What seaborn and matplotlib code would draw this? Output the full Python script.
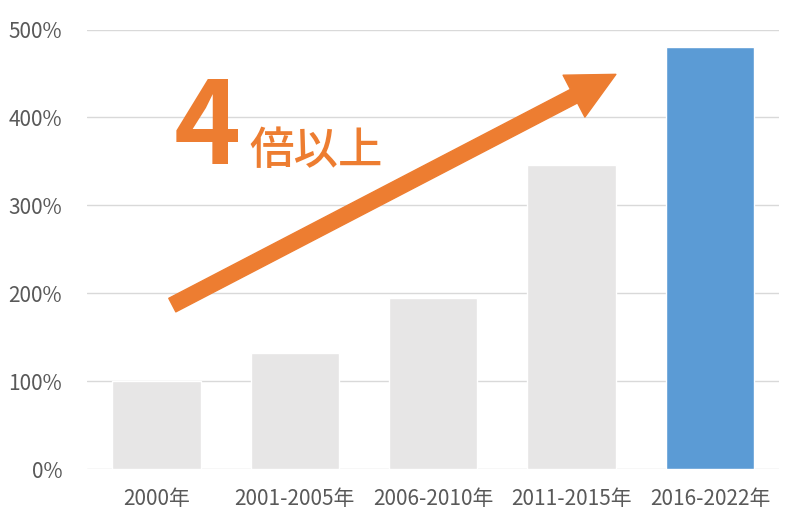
import seaborn as sns
import matplotlib.pyplot as plt
import pandas as pd

# data
periods = ["2000年", "2001-2005年", "2006-2010年", "2011-2015年", "2016-2022年"]
growth = [100, 132, 195, 346, 480]
bar_colors = ["#E7E6E6", "#E7E6E6", "#E7E6E6", "#E7E6E6", "#5B9BD5"]
yticks = [0, 100, 200, 300, 400, 500]

df = pd.DataFrame({"period": periods, "growth": growth})

sns.set_theme(style="white")
plt.rcParams["font.family"] = ["Noto Sans CJK JP", "DejaVu Sans"]

fig = plt.figure(figsize=(8, 5.27), dpi=100)
ax = fig.add_axes([0.109, 0.11, 0.865, 0.834])

sns.barplot(data=df, x="period", y="growth", hue="period", palette=bar_colors,
            legend=False, width=0.64, saturation=1, ax=ax, zorder=2)

ax.set_ylim(0, 500)
ax.set_yticks(yticks)
ax.set_yticklabels([f"{v}%" for v in yticks])
ax.set_xlim(-0.5, 4.5)
ax.grid(axis="y", color="#D9D9D9", linewidth=1, zorder=0)
ax.set_axisbelow(True)
for s in ax.spines.values():
    s.set_visible(False)
ax.set_xlabel("")
ax.set_ylabel("")
ax.tick_params(axis="y", labelsize=15, colors="#595959", length=0, pad=18)
ax.tick_params(axis="x", labelsize=15, colors="#595959", length=0, pad=14)

orange = "#ED7D31"
ax.annotate("", xy=(0.764, 0.898), xytext=(0.123, 0.373),
            xycoords="axes fraction", textcoords="axes fraction",
            arrowprops=dict(arrowstyle="simple,head_width=34,head_length=34,tail_width=11",
                            mutation_scale=1, color=orange, shrinkA=0, shrinkB=0),
            zorder=3)

ax.text(0.125, 0.693, "4", transform=ax.transAxes, fontsize=82, fontweight="bold",
        color=orange, ha="left", va="baseline")
ax.text(0.235, 0.693, "倍以上", transform=ax.transAxes, fontsize=32, fontweight="medium",
        color=orange, ha="left", va="baseline")

fig.savefig("out.png", dpi=100)
